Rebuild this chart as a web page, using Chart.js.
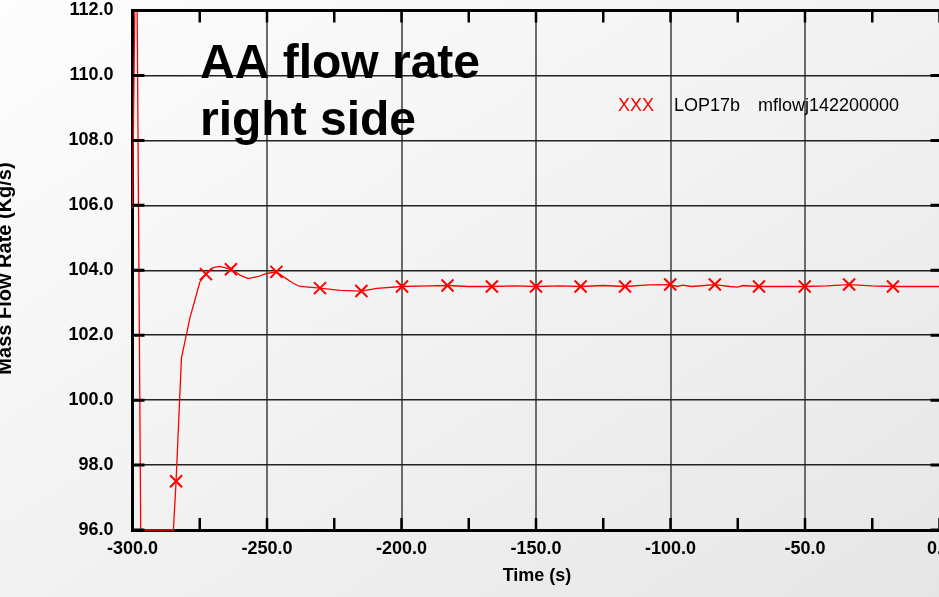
<!DOCTYPE html>
<html>
<head>
<meta charset="utf-8">
<script src="https://cdn.jsdelivr.net/npm/chart.js@4/dist/chart.umd.min.js"></script>
<style>
  html, body {
    margin: 0; padding: 0; width: 939px; height: 597px; overflow: hidden;
    background: linear-gradient(to bottom right, #fdfdfd 0%, #f2f2f2 50%, #e6e6e6 100%);
  }
  #wrap { position: absolute; left: 0; top: 0; width: 1000px; height: 597px; }
</style>
</head>
<body>
<div id="wrap"><canvas id="c" width="1000" height="597"></canvas></div>
<script>
// Mass flow rate, right-side loop (time in s, flow in kg/s)
const lineTime = [-300, -298.6, -296.95, -284.8, -283.8, -281.8, -278.6, -274.9, -272.7, -270, -267.5,
  -263.4, -260, -257, -253.5, -250.1, -246.5, -243, -240.3, -237.7, -230.3, -222.9, -214.9, -209.2,
  -199.8, -190, -182.9, -175, -166.4, -158, -150, -141, -133.4, -125, -116.9, -108, -100.1, -97.5,
  -95.5, -92, -83.5, -78, -75, -73, -67.1, -58, -50.1, -42, -33.6, -25, -17.3, -8, 0];
const lineFlow = [105.9, 116, 96, 96, 97.5, 101.3, 102.55, 103.65, 103.88, 104.08, 104.12,
  104.03, 103.85, 103.74, 103.8, 103.9, 103.95, 103.75, 103.6, 103.5, 103.45, 103.38, 103.36, 103.44,
  103.5, 103.52, 103.53, 103.5, 103.5, 103.52, 103.5, 103.52, 103.5, 103.53, 103.5, 103.55, 103.56, 103.5,
  103.54, 103.5, 103.56, 103.5, 103.48, 103.53, 103.5, 103.5, 103.5, 103.52, 103.56, 103.52, 103.5, 103.5, 103.5];

// Sampled points shown with symbols
const markTime = [-283.8, -272.7, -263.4, -246.5, -230.3, -214.9, -199.8, -182.9, -166.4, -150.0,
  -133.4, -116.9, -100.1, -83.5, -67.1, -50.1, -33.6, -17.3];
const markFlow = [97.5, 103.88, 104.03, 103.95, 103.45, 103.36, 103.5, 103.53, 103.5, 103.5,
  103.5, 103.5, 103.56, 103.56, 103.5, 103.5, 103.56, 103.5];

// Axis ticks and text
const xTicks = [-300, -250, -200, -150, -100, -50, 0];
const xMinorTicks = [-275, -225, -175, -125, -75, -25];
const yTicks = [96, 98, 100, 102, 104, 106, 108, 110, 112];
const titleLines = ['AA flow rate', 'right side'];
const legendSymbol = 'XXX';
const legendParts = ['LOP17b', 'mflowj142200000'];
const xTitle = 'Time (s)';
const yTitle = 'Mass Flow Rate (Kg/s)';

const FONT = "'Liberation Sans', Arial, Helvetica, sans-serif";
const RED = '#ff0000';

const frame = {
  id: 'frame',
  afterDraw(chart) {
    const { ctx, chartArea: a, scales: { x, y } } = chart;
    ctx.save();
    ctx.strokeStyle = '#000';
    ctx.lineCap = 'butt';
    // top border
    ctx.lineWidth = 3;
    ctx.beginPath();
    ctx.moveTo(a.left - 1.5, a.top); ctx.lineTo(a.right, a.top);
    ctx.stroke();
    // x tick marks, top and bottom
    ctx.lineWidth = 2.5;
    [...xTicks, ...xMinorTicks].forEach(v => {
      const px = x.getPixelForValue(v);
      ctx.beginPath();
      ctx.moveTo(px, a.bottom - 1); ctx.lineTo(px, a.bottom - 12);
      ctx.moveTo(px, a.top); ctx.lineTo(px, a.top + 12);
      ctx.stroke();
    });
    // y tick marks, left and right
    ctx.lineWidth = 3;
    yTicks.forEach(v => {
      const py = y.getPixelForValue(v);
      ctx.beginPath();
      ctx.moveTo(a.left, py); ctx.lineTo(a.left + 12, py);
      ctx.moveTo(a.right, py); ctx.lineTo(a.right - 9, py);
      ctx.stroke();
    });
    // title
    ctx.fillStyle = '#000';
    ctx.textBaseline = 'alphabetic';
    ctx.textAlign = 'left';
    ctx.font = `bold 48px ${FONT}`;
    ctx.fillText(titleLines[0], 200, 78);
    ctx.fillText(titleLines[1], 200, 135);
    // legend
    ctx.font = `18px ${FONT}`;
    ctx.fillStyle = RED;
    ctx.fillText(legendSymbol, 618, 111);
    ctx.fillStyle = '#000';
    ctx.fillText(legendParts[0], 674, 111);
    ctx.fillText(legendParts[1], 758, 111);
    // axis titles
    ctx.font = `bold 18px ${FONT}`;
    ctx.textAlign = 'center';
    ctx.fillText(xTitle, 537, 581);
    ctx.save();
    ctx.translate(11, 268.5);
    ctx.rotate(-Math.PI / 2);
    ctx.font = `bold 20px ${FONT}`;
    ctx.fillText(yTitle, 0, 0);
    ctx.restore();
    ctx.restore();
  }
};

const edge = (vals) => (c) => (c.tick && vals.includes(c.tick.value)) ? 'rgba(0,0,0,0)' : null;

new Chart(document.getElementById('c').getContext('2d'), {
  type: 'line',
  data: {
    datasets: [
      {
        data: lineTime.map((t, i) => ({ x: t, y: lineFlow[i] })),
        borderColor: RED, borderWidth: 1.3, pointRadius: 0, tension: 0, fill: false,
        clip: { left: 2, top: 0, right: 2, bottom: 2 }
      },
      {
        data: markTime.map((t, i) => ({ x: t, y: markFlow[i] })),
        showLine: false, pointStyle: 'crossRot', pointRadius: 8.5,
        pointBorderColor: RED, pointBackgroundColor: RED, pointBorderWidth: 2
      }
    ]
  },
  options: {
    responsive: false,
    animation: false,
    events: [],
    layout: { padding: { top: 10, right: 60.5, left: 0, bottom: 0 } },
    plugins: { legend: { display: false }, tooltip: { enabled: false } },
    scales: {
      x: {
        type: 'linear', min: -300, max: 0,
        afterBuildTicks: s => { s.ticks = xTicks.map(v => ({ value: v })); },
        afterFit: s => { s.height = 67; },
        ticks: {
          callback: v => v.toFixed(1), color: '#000', padding: 8,
          maxRotation: 0, autoSkip: false,
          font: { family: FONT, size: 18, weight: 'bold' }
        },
        grid: {
          drawTicks: false, lineWidth: 2,
          color: c => edge([-300, 0])(c) || '#6b6b6b'
        },
        border: { display: true, color: '#000', width: 3 }
      },
      y: {
        min: 96, max: 112,
        afterBuildTicks: s => { s.ticks = yTicks.map(v => ({ value: v })); },
        afterFit: s => { s.width = 132.5; s.paddingTop = 0; s.paddingBottom = 0; },
        ticks: {
          callback: v => v.toFixed(1), color: '#000', padding: 19,
          font: { family: FONT, size: 18, weight: 'bold' }
        },
        grid: {
          drawTicks: false, lineWidth: 1.5,
          color: c => edge([96, 112])(c) || '#222'
        },
        border: { display: true, color: '#000', width: 3 }
      }
    }
  },
  plugins: [frame]
});
</script>
</body>
</html>
